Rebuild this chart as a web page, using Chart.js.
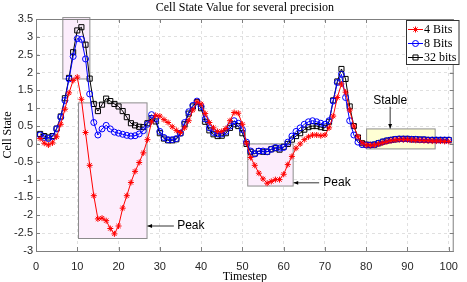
<!DOCTYPE html>
<html>
<head>
<meta charset="utf-8">
<script src="https://cdn.jsdelivr.net/npm/chart.js@4/dist/chart.umd.min.js"></script>
<style>
  html, body { margin: 0; padding: 0; background: #fff; }
  #wrap { width: 467px; height: 282px; position: relative; }
</style>
</head>
<body>
<div id="wrap"><canvas id="cellChart"></canvas></div>
<script>
const timesteps = Array.from({ length: 100 }, (_, i) => i + 1);

const bits4 = [
  0.15, 0.02, -0.03, 0.03, 0.2, 0.55, 0.97, 1.43, 1.78, 1.87,
  1.25, 0.32, -0.6, -1.45, -2.1, -2.08, -2.15, -2.37, -2.52, -2.3,
  -1.8, -1.45, -1.08, -0.77, -0.52, -0.25, 0.12, 0.62, 0.8, 0.78,
  0.68, 0.6, 0.48, 0.38, 0.32, 0.45, 0.65, 0.95, 1.18, 1.12,
  0.85, 0.6, 0.45, 0.35, 0.35, 0.43, 0.65, 0.88, 0.86, 0.55,
  0.02, -0.38, -0.6, -0.82, -0.98, -1.1, -1.05, -1.0, -1.0, -0.85,
  -0.58, -0.35, -0.12, 0.0, 0.12, 0.2, 0.25, 0.25, 0.23, 0.25,
  0.45, 0.78, 1.3, 1.68, 1.45, 0.95, 0.5, 0.2, 0.03, -0.03,
  -0.04, -0.03, 0.0, 0.03, 0.06, 0.09, 0.11, 0.12, 0.12, 0.12,
  0.11, 0.1, 0.1, 0.09, 0.09, 0.08, 0.08, 0.08, 0.07, 0.07
];

const bits8 = [
  0.25, 0.18, 0.15, 0.2, 0.42, 0.75, 1.22, 1.82, 2.45, 2.95,
  2.93, 2.38, 1.4, 0.6, 0.25, 0.42, 0.52, 0.42, 0.33, 0.3,
  0.27, 0.24, 0.22, 0.23, 0.28, 0.37, 0.55, 0.82, 0.7, 0.35,
  0.18, 0.12, 0.12, 0.15, 0.3, 0.6, 0.9, 1.08, 1.2, 1.05,
  0.7, 0.45, 0.32, 0.28, 0.28, 0.35, 0.5, 0.65, 0.58, 0.4,
  0.05, -0.2, -0.28, -0.2, -0.2, -0.22, -0.15, -0.1, -0.12, -0.1,
  0.05, 0.22, 0.35, 0.45, 0.55, 0.62, 0.65, 0.62, 0.58, 0.55,
  0.65, 1.2, 1.72, 1.95, 1.3, 0.65, 0.25, 0.05, -0.02, -0.03,
  -0.03, -0.02, 0.02, 0.06, 0.09, 0.11, 0.13, 0.14, 0.14, 0.14,
  0.13, 0.13, 0.12, 0.12, 0.11, 0.11, 0.11, 0.11, 0.11, 0.11
];

const bits32 = [
  0.28, 0.22, 0.18, 0.22, 0.43, 0.77, 1.28, 1.85, 2.57, 3.18,
  3.27, 2.78, 1.83, 1.12, 0.92, 1.1, 1.27, 1.2, 1.12, 1.05,
  0.92, 0.75, 0.58, 0.52, 0.48, 0.47, 0.58, 0.72, 0.63, 0.3,
  0.15, 0.1, 0.1, 0.13, 0.3, 0.55, 0.85, 1.05, 1.17, 1.0,
  0.62, 0.38, 0.27, 0.22, 0.23, 0.3, 0.45, 0.55, 0.5, 0.3,
  0.0, -0.22, -0.27, -0.2, -0.22, -0.22, -0.15, -0.12, -0.16, -0.08,
  0.0, 0.12, 0.22, 0.3, 0.4, 0.47, 0.5, 0.5, 0.47, 0.45,
  0.62, 1.22, 1.75, 2.1, 1.82, 1.05, 0.5, 0.18, 0.02, -0.02,
  -0.03, -0.02, 0.02, 0.06, 0.09, 0.11, 0.13, 0.14, 0.14, 0.14,
  0.13, 0.13, 0.12, 0.12, 0.11, 0.11, 0.11, 0.11, 0.11, 0.11
];

const seriesNames = ['4 Bits', '8 Bits', '32 bits'];

// highlight boxes: [xMin, xMax, yMin, yMax]
const pinkBoxes = [[6.5, 13.05, 1.82, 3.54], [10.3, 26.9, -2.65, 1.15], [51.3, 62.3, -1.18, 0]];
const yellowBox = [80.1, 96.7, -0.14, 0.42];

const serif = '"Liberation Serif", "DejaVu Serif", serif';
const sans = '"Liberation Sans", Arial, sans-serif';

const toPoints = vals => vals.map((v, i) => ({ x: timesteps[i], y: v }));

const styles = [
  { color: '#ff0000', point: 'star', radius: 3 },
  { color: '#0000ff', point: 'circle', radius: 3 },
  { color: '#000000', point: 'rect', radius: 3.6 }
];

const decorations = {
  id: 'decorations',
  beforeDatasetsDraw(chart) {
    const { ctx, scales: { x, y } } = chart;
    const rect = (b, fill) => {
      const l = x.getPixelForValue(b[0]), r = x.getPixelForValue(b[1]);
      const t = y.getPixelForValue(b[3]), btm = y.getPixelForValue(b[2]);
      ctx.save();
      ctx.fillStyle = fill;
      ctx.fillRect(l, t, r - l, btm - t);
      ctx.strokeStyle = '#8c8c8c';
      ctx.lineWidth = 1;
      ctx.strokeRect(l, t, r - l, btm - t);
      ctx.restore();
    };
    pinkBoxes.forEach(b => rect(b, '#fcedfc'));
    rect(yellowBox, '#ffffd4');
  },
  afterDraw(chart) {
    const { ctx, chartArea: a, scales: { x, y } } = chart;
    ctx.save();
    // box and inside ticks
    ctx.strokeStyle = '#7f7f7f';
    ctx.lineWidth = 1;
    ctx.strokeRect(a.left + 0.5, a.top + 0.5, a.right - a.left - 1, a.bottom - a.top);
    ctx.beginPath();
    x.ticks.forEach(t => {
      const px = Math.round(x.getPixelForValue(t.value)) + 0.5;
      ctx.moveTo(px, a.bottom); ctx.lineTo(px, a.bottom - 4);
      ctx.moveTo(px, a.top); ctx.lineTo(px, a.top + 4);
    });
    y.ticks.forEach(t => {
      const py = Math.round(y.getPixelForValue(t.value)) + 0.5;
      ctx.moveTo(a.left, py); ctx.lineTo(a.left + 4, py);
      ctx.moveTo(a.right, py); ctx.lineTo(a.right - 4, py);
    });
    ctx.stroke();

    // arrows + labels
    const arrow = (x1, y1, x2, y2) => {
      ctx.strokeStyle = '#333';
      ctx.fillStyle = '#000';
      ctx.lineWidth = 1;
      ctx.beginPath(); ctx.moveTo(x1, y1); ctx.lineTo(x2, y2); ctx.stroke();
      const ang = Math.atan2(y2 - y1, x2 - x1);
      ctx.beginPath();
      ctx.moveTo(x2, y2);
      ctx.lineTo(x2 - 5 * Math.cos(ang - 0.4), y2 - 5 * Math.sin(ang - 0.4));
      ctx.lineTo(x2 - 5 * Math.cos(ang + 0.4), y2 - 5 * Math.sin(ang + 0.4));
      ctx.closePath(); ctx.fill();
    };
    ctx.font = '12px ' + sans;
    ctx.textBaseline = 'middle';
    const p1y = y.getPixelForValue(-2.3);
    arrow(x.getPixelForValue(33.4), p1y, x.getPixelForValue(27.0), p1y);
    ctx.fillStyle = '#000';
    ctx.textAlign = 'left';
    ctx.fillText('Peak', x.getPixelForValue(34.2), p1y);
    const p2y = y.getPixelForValue(-1.09);
    arrow(x.getPixelForValue(68.6), p2y, x.getPixelForValue(62.4), p2y);
    ctx.fillStyle = '#000';
    ctx.fillText('Peak', x.getPixelForValue(69.6), p2y);
    const sx = x.getPixelForValue(85.8);
    arrow(sx, y.getPixelForValue(1.04), sx, y.getPixelForValue(0.43));
    ctx.fillStyle = '#000';
    ctx.textAlign = 'center';
    ctx.fillText('Stable', sx, y.getPixelForValue(1.22));

    // title
    ctx.font = '12px ' + serif;
    ctx.fillStyle = '#000';
    ctx.fillText('Cell State Value for several precision', (a.left + a.right) / 2, 7.5);

    // legend
    const lx = 406, ly = 20, lw = 52.5, lh = 44;
    ctx.fillStyle = '#fff';
    ctx.fillRect(lx, ly, lw, lh);
    ctx.strokeStyle = '#333';
    ctx.strokeRect(lx + 0.5, ly + 0.5, lw, lh);
    chart.data.datasets.forEach((ds, i) => {
      const cy = 29.5 + i * 14;
      ctx.strokeStyle = ds.borderColor;
      ctx.lineWidth = 1;
      ctx.beginPath(); ctx.moveTo(408, cy); ctx.lineTo(423, cy); ctx.stroke();
      ctx.fillStyle = 'rgba(0,0,0,0)';
      Chart.helpers.drawPoint(ctx, { pointStyle: ds.pointStyle, radius: ds.pointRadius, borderWidth: 1 }, 415.5, cy);
      ctx.fillStyle = '#000';
      ctx.textAlign = 'left';
      ctx.font = '12px ' + serif;
      ctx.fillText(ds.label, 424, cy);
    });
    ctx.restore();
  }
};

new Chart(document.getElementById('cellChart'), {
  type: 'line',
  data: {
    datasets: [bits4, bits8, bits32].map((vals, i) => ({
      label: seriesNames[i],
      data: toPoints(vals),
      borderColor: styles[i].color,
      backgroundColor: 'rgba(0,0,0,0)',
      borderWidth: 1,
      pointStyle: styles[i].point,
      pointRadius: styles[i].radius,
      pointBorderColor: styles[i].color,
      pointBorderWidth: 1,
      pointBackgroundColor: 'rgba(0,0,0,0)',
      tension: 0,
      fill: false
    }))
  },
  options: {
    responsive: true,
    maintainAspectRatio: false,
    animation: false,
    layout: { padding: { left: 0, right: 5, top: 19, bottom: 0 } },
    plugins: { legend: { display: false }, title: { display: false }, tooltip: { enabled: false } },
    scales: {
      x: {
        type: 'linear',
        min: 0,
        max: 101.2,
        afterFit: s => { s.height = 31; },
        ticks: {
          stepSize: 10,
          includeBounds: false,
          padding: 9,
          color: '#262626',
          font: { family: sans, size: 11 },
          maxRotation: 0
        },
        grid: { color: 'rgba(0,0,0,0.12)', drawTicks: false, tickLength: 0 },
        border: { display: false, dash: [3, 3] },
        title: {
          display: true,
          text: 'Timestep',
          color: '#000',
          font: { family: serif, size: 12, lineHeight: '11px' },
          padding: { top: 0, bottom: 0 }
        }
      },
      y: {
        min: -3,
        max: 3.5,
        afterFit: s => { s.width = 36; },
        ticks: {
          stepSize: 0.5,
          padding: 3,
          color: '#262626',
          font: { family: sans, size: 11 },
          callback: v => String(Number(v.toFixed(1)))
        },
        grid: { color: 'rgba(0,0,0,0.12)', drawTicks: false, tickLength: 0 },
        border: { display: false, dash: [3, 3] },
        title: {
          display: true,
          text: 'Cell State',
          color: '#000',
          font: { family: serif, size: 12, lineHeight: '12px' },
          padding: { top: 2, bottom: 0 }
        }
      }
    }
  },
  plugins: [decorations]
});
</script>
</body>
</html>
